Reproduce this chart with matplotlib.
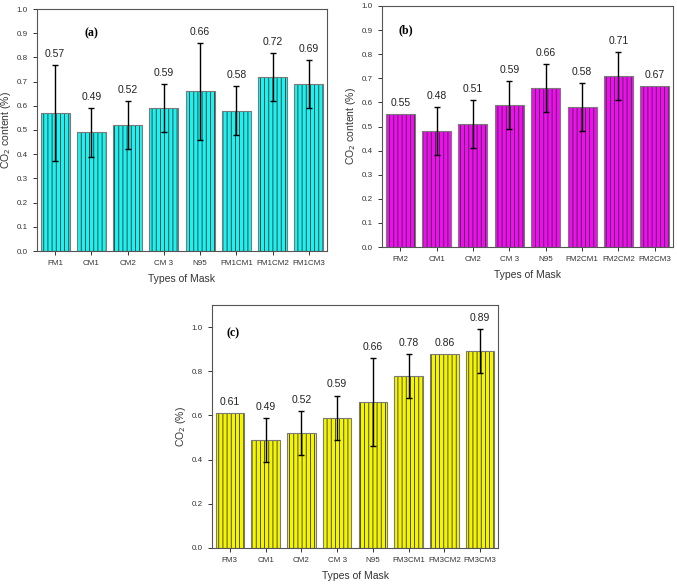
import matplotlib
matplotlib.use("Agg")
import matplotlib.pyplot as plt
import numpy as np

plt.rcParams['font.family'] = ['Liberation Sans', 'DejaVu Sans']
plt.rcParams['hatch.linewidth'] = 0.6

# panel (a)
labels_a = ["FM1", "CM1", "CM2", "CM 3", "N95", "FM1CM1", "FM1CM2", "FM1CM3"]
values_a = [0.57, 0.49, 0.52, 0.59, 0.66, 0.58, 0.72, 0.69]
errors_a = [0.20, 0.10, 0.10, 0.10, 0.20, 0.10, 0.10, 0.10]
texts_a = ["0.57", "0.49", "0.52", "0.59", "0.66", "0.58", "0.72", "0.69"]

# panel (b)
labels_b = ["FM2", "CM1", "CM2", "CM 3", "N95", "FM2CM1", "FM2CM2", "FM2CM3"]
values_b = [0.55, 0.48, 0.51, 0.59, 0.66, 0.58, 0.71, 0.67]
errors_b = [0.0, 0.10, 0.10, 0.10, 0.10, 0.10, 0.10, 0.0]
texts_b = ["0.55", "0.48", "0.51", "0.59", "0.66", "0.58", "0.71", "0.67"]

# panel (c)
labels_c = ["FM3", "CM1", "CM2", "CM 3", "N95", "FM3CM1", "FM3CM2", "FM3CM3"]
values_c = [0.61, 0.49, 0.52, 0.59, 0.66, 0.78, 0.88, 0.89]
errors_c = [0.0, 0.10, 0.10, 0.10, 0.20, 0.10, 0.0, 0.10]
texts_c = ["0.61", "0.49", "0.52", "0.59", "0.66", "0.78", "0.86", "0.89"]


def draw_panel(ax, labels, values, errors, texts, color, tag, tag_xy,
               ylabel, ymax, yticks):
    x = np.arange(len(labels))
    ax.bar(x, values, width=0.8, color=color, edgecolor='#333333',
           linewidth=0.0, hatch='||||', zorder=2)
    ax.bar(x, values, width=0.8, color='none', edgecolor='#7a7a7a',
           linewidth=0.8, zorder=3)
    err = np.array(errors)
    mask = err > 0
    ax.errorbar(x[mask], np.array(values)[mask], yerr=err[mask], fmt='none',
                ecolor='black', elinewidth=1.0, capsize=2.5, capthick=1.0, zorder=4)
    for xi, v, e, t in zip(x, values, errors, texts):
        ax.text(xi, v + e + 0.025 * ymax, t, ha='center', va='bottom',
                fontsize=7.5, color='#222222')
    ax.set_xlim(-0.5, len(labels) - 0.5)
    ax.set_ylim(0, ymax)
    ax.set_yticks(yticks)
    ax.set_yticklabels([f"{t:.1f}" for t in yticks])
    ax.set_xticks(x)
    ax.set_xticklabels(labels)
    ax.tick_params(axis='both', labelsize=5.8, length=3, width=0.7,
                   direction='out', colors='#333333')
    for sp in ax.spines.values():
        sp.set_color('#555555')
        sp.set_linewidth(0.8)
    ax.set_xlabel("Types of Mask", fontsize=7.5, color='#333333', labelpad=5)
    ax.set_ylabel(ylabel, fontsize=7.5, color='#333333', labelpad=3)
    ax.text(tag_xy[0], tag_xy[1], tag,
            fontsize=8.5, fontweight='bold', family=['Liberation Serif', 'DejaVu Serif'],
            ha='center', va='center')


fig = plt.figure(figsize=(6.77, 5.84), dpi=100)
W, H = 677, 584

ax_a = fig.add_axes([37 / W, (H - 251) / H, 290 / W, 242 / H])
draw_panel(ax_a, labels_a, values_a, errors_a, texts_a, '#1ef2f0', '(a)', (1.0, 0.9),
           "CO$_2$ content (%)", 1.0, np.arange(0, 1.01, 0.1))

ax_b = fig.add_axes([382 / W, (H - 247) / H, 291 / W, 241 / H])
draw_panel(ax_b, labels_b, values_b, errors_b, texts_b, '#f20cf2', '(b)', (0.15, 0.9),
           "CO$_2$ content (%)", 1.0, np.arange(0, 1.01, 0.1))

ax_c = fig.add_axes([212 / W, (H - 548) / H, 286 / W, 243 / H])
draw_panel(ax_c, labels_c, values_c, errors_c, texts_c, '#f5f500', '(c)', (0.1, 0.97),
           "CO$_2$ (%)", 1.1, np.arange(0, 1.01, 0.2))

fig.savefig("out.png", dpi=100)
